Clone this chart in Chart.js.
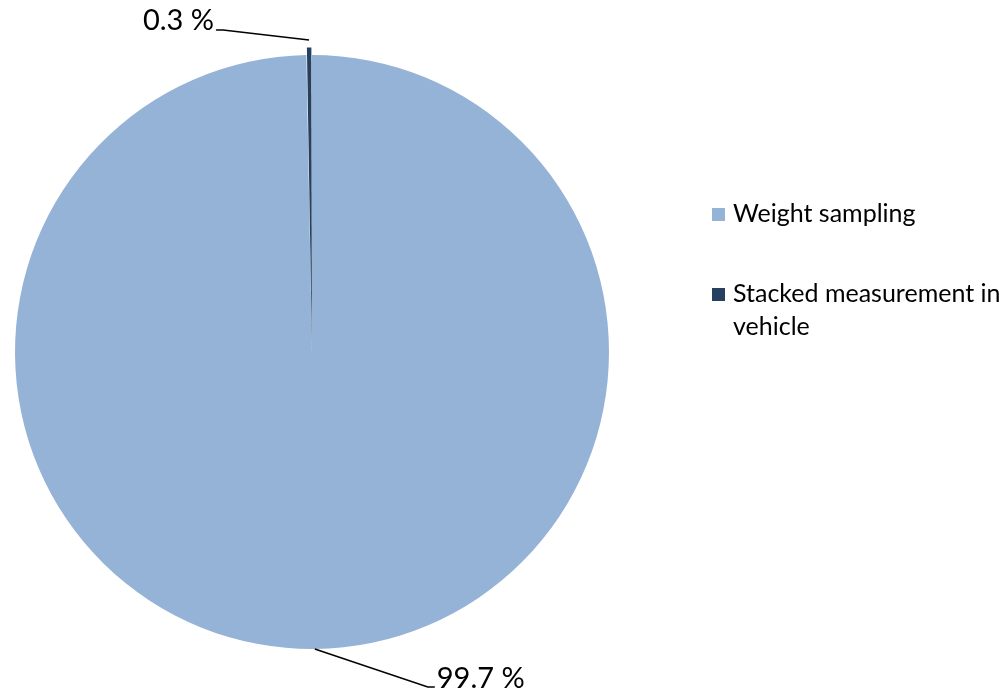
<!DOCTYPE html>
<html>
<head>
<meta charset="utf-8">
<title>Pie chart</title>
<script src="https://cdn.jsdelivr.net/npm/chart.js@4.4.1/dist/chart.umd.min.js"></script>
<style>
  html, body { margin: 0; padding: 0; background: #fff; }
  #wrap { width: 1006px; height: 692px; position: relative; }
</style>
</head>
<body>
<div id="wrap"><canvas id="chart" width="1006" height="692"></canvas></div>
<script>
// chart data
var categories = ['Weight sampling', 'Stacked measurement in vehicle'];
var shares = [99.7, 0.3];
var sliceColors = ['#95b3d7', '#254061'];

var labelFont = '29px Lato, "Noto Sans", sans-serif';
var legendFont = '25px Lato, "Noto Sans", sans-serif';

// leader lines + percentage labels
var pieLabels = {
  id: 'pieLabels',
  afterDatasetsDraw: function(chart, args, opts) {
    var ctx = chart.ctx;
    var meta = chart.getDatasetMeta(0);
    var ds = chart.data.datasets[0];
    var total = ds.data.reduce(function(a, b) { return a + b; }, 0);
    ctx.save();
    ctx.font = labelFont;
    ctx.fillStyle = '#000';
    ctx.strokeStyle = '#000';
    ctx.lineWidth = 1.5;
    meta.data.forEach(function(arc, i) {
      var p = arc.getProps(['x', 'y', 'startAngle', 'endAngle', 'outerRadius'], true);
      var mid = (p.startAngle + p.endAngle) / 2;
      var off = (ds.offset && ds.offset[i]) || 0;
      var ax = p.x + Math.cos(mid) * (p.outerRadius + off);
      var ay = p.y + Math.sin(mid) * (p.outerRadius + off);
      var o = opts.leaders[i];
      var ex = ax + o.dx, ey = ay + o.dy;
      var side = o.dx < 0 ? -1 : 1;
      ctx.beginPath();
      ctx.moveTo(ax, ay);
      ctx.lineTo(ex, ey);
      ctx.lineTo(ex + side * 7, ey);
      ctx.stroke();
      var txt = (ds.data[i] / total * 100).toFixed(1) + ' %';
      ctx.textAlign = side < 0 ? 'right' : 'left';
      ctx.textBaseline = 'alphabetic';
      ctx.fillText(txt, ex + side * 9, ey + o.ty);
    });
    ctx.restore();
  }
};

// legend on the right, wrapped text
var sideLegend = {
  id: 'sideLegend',
  afterDraw: function(chart, args, opts) {
    var ctx = chart.ctx;
    var ds = chart.data.datasets[0];
    ctx.save();
    ctx.font = legendFont;
    ctx.textAlign = 'left';
    ctx.textBaseline = 'alphabetic';
    var y = opts.top;
    chart.data.labels.forEach(function(lab, i) {
      ctx.fillStyle = ds.backgroundColor[i];
      ctx.fillRect(opts.left, y - 14, 13, 13);
      // word wrap
      var words = lab.split(' ');
      var lines = [];
      var cur = '';
      words.forEach(function(w) {
        var t = cur ? cur + ' ' + w : w;
        if (ctx.measureText(t).width > opts.maxWidth && cur) {
          lines.push(cur);
          cur = w;
        } else {
          cur = t;
        }
      });
      lines.push(cur);
      ctx.fillStyle = '#000';
      lines.forEach(function(l, k) {
        ctx.fillText(l, opts.left + 21, y + k * opts.lineHeight);
      });
      y += opts.itemGap;
    });
    ctx.restore();
  }
};

var ctx = document.getElementById('chart').getContext('2d');
var chart = new Chart(ctx, {
  type: 'pie',
  data: {
    labels: categories,
    datasets: [{
      data: shares,
      backgroundColor: sliceColors,
      borderWidth: 0,
      offset: [0, 15],
      radius: 297
    }]
  },
  options: {
    responsive: false,
    animation: false,
    devicePixelRatio: 1,
    layout: { padding: { left: 0, right: 382, top: 12, bottom: 0 } },
    plugins: {
      legend: { display: false },
      tooltip: { enabled: false },
      pieLabels: {
        leaders: [
          { dx: 113, dy: 38, ty: 1 },
          { dx: -86, dy: -10, ty: 0 }
        ]
      },
      sideLegend: { left: 712, top: 222, maxWidth: 275, lineHeight: 33, itemGap: 80 }
    }
  },
  plugins: [pieLabels, sideLegend]
});
</script>
</body>
</html>
